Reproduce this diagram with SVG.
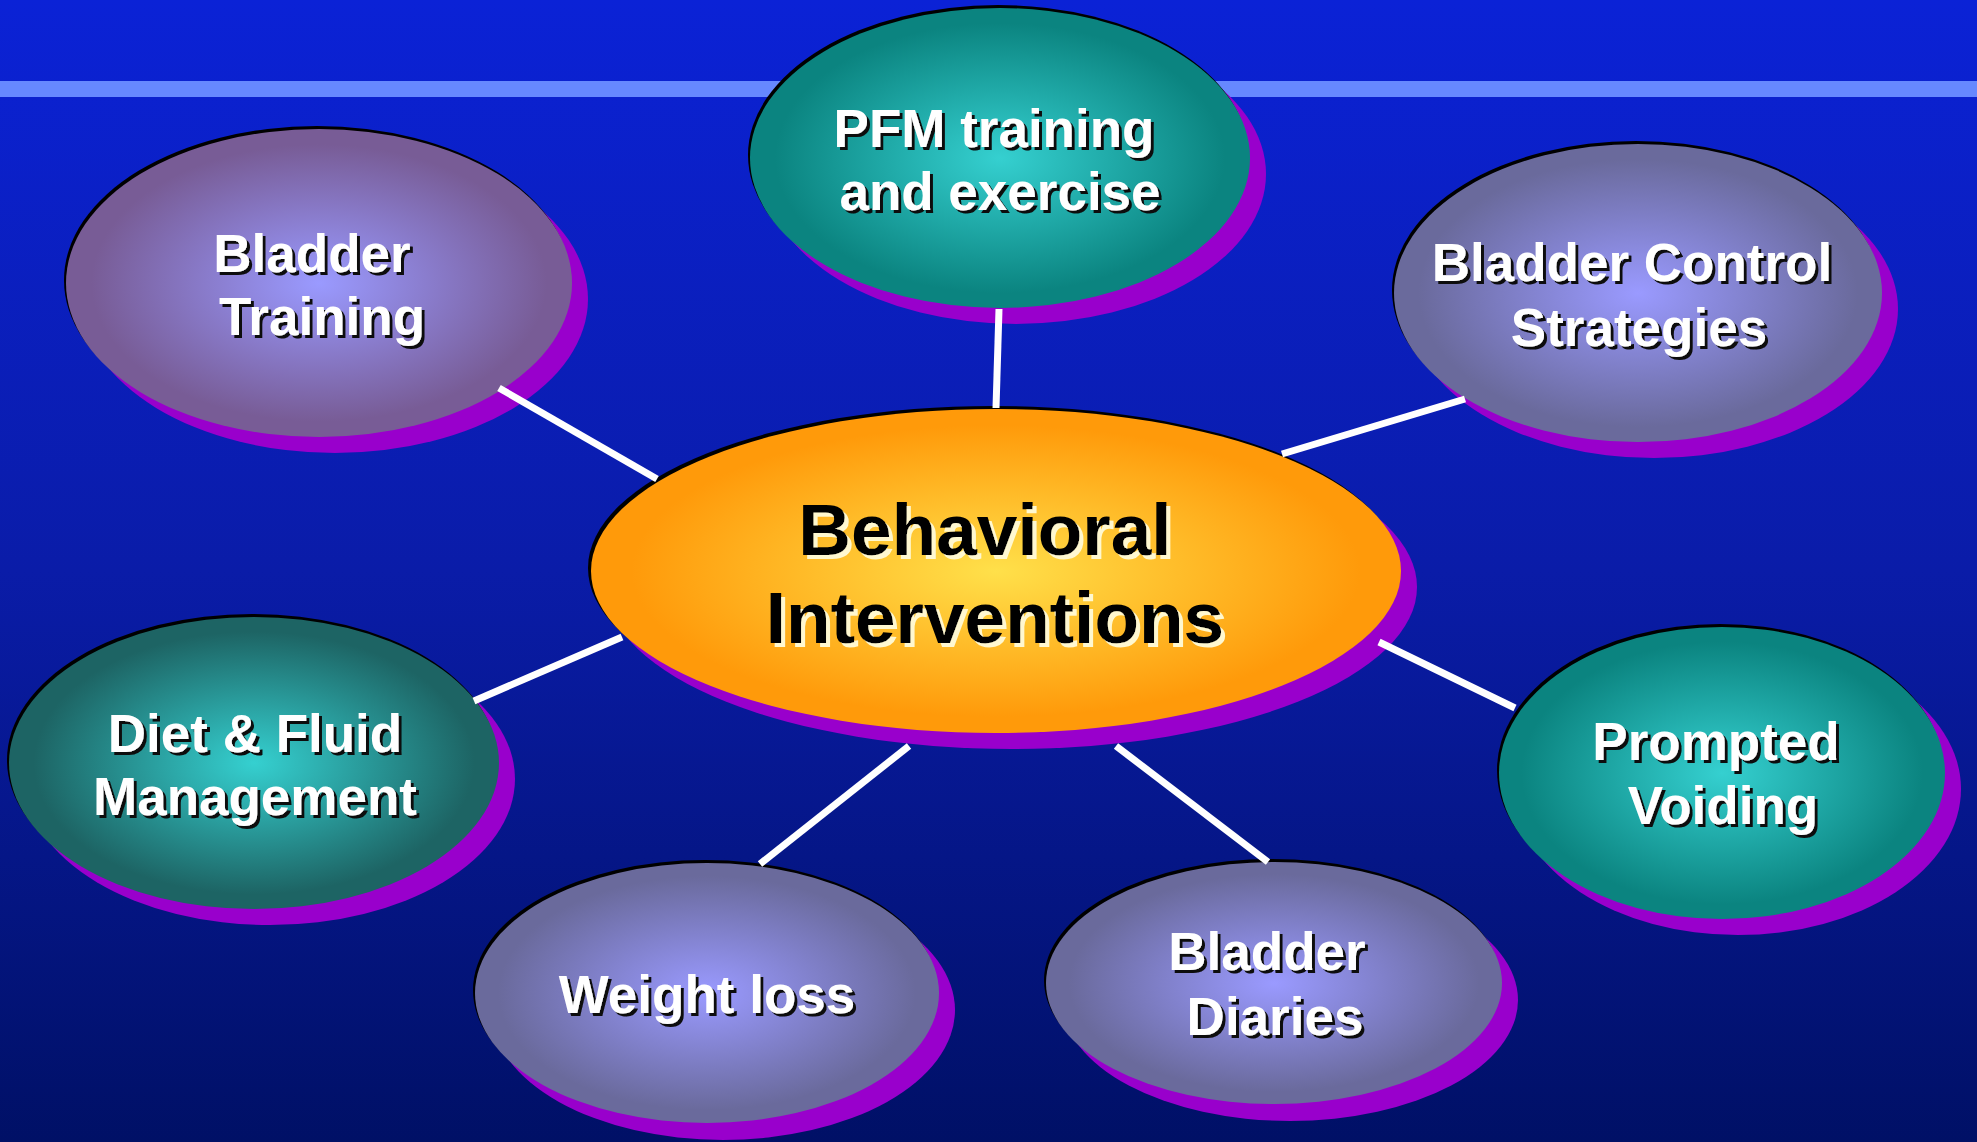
<svg xmlns="http://www.w3.org/2000/svg" width="1977" height="1142" viewBox="0 0 1977 1142">
<defs>
<linearGradient id="bg" x1="0" y1="0" x2="0" y2="1">
<stop offset="0" stop-color="#0b22d6"/>
<stop offset="0.5" stop-color="#0a1ca8"/>
<stop offset="1" stop-color="#001066"/>
</linearGradient>
<radialGradient id="gTeal"><stop offset="0" stop-color="#35d0d0"/><stop offset="0.9" stop-color="#0b8480"/></radialGradient>
<radialGradient id="gTealDark"><stop offset="0" stop-color="#35d0d0"/><stop offset="0.9" stop-color="#1d6464"/></radialGradient>
<radialGradient id="gLilac"><stop offset="0" stop-color="#9a9aff"/><stop offset="0.9" stop-color="#785c96"/></radialGradient>
<radialGradient id="gSlate"><stop offset="0" stop-color="#9a9aff"/><stop offset="0.9" stop-color="#6a6a9c"/></radialGradient>
<radialGradient id="gOrange"><stop offset="0" stop-color="#ffe04a"/><stop offset="0.9" stop-color="#ff9a0a"/></radialGradient>
<filter id="dsDark" x="-10%" y="-20%" width="130%" height="150%">
<feDropShadow dx="3" dy="3" stdDeviation="0.6" flood-color="#111" flood-opacity="1"/>
</filter>
<filter id="dsLight" x="-10%" y="-20%" width="130%" height="150%">
<feDropShadow dx="4" dy="4" stdDeviation="0.6" flood-color="#fff8d0" flood-opacity="1"/>
</filter>
</defs>
<style>
.shadow{fill:#9900cc}
.rim{fill:#000}
.lbl{font-family:"Liberation Sans",Arial,sans-serif;font-weight:bold;font-size:53px;text-anchor:middle;fill:#fff;filter:url(#dsDark)}
.big{font-family:"Liberation Sans",Arial,sans-serif;font-weight:bold;font-size:73px;text-anchor:middle;fill:#000;filter:url(#dsLight)}
.conn line{stroke:#fff;stroke-width:7}
</style>
<rect x="0" y="0" width="1977" height="1142" fill="url(#bg)"/>
<rect x="0" y="81" width="1977" height="16" fill="#6688ff"/>

<g id="node-pfm">
<ellipse class="shadow" cx="1016" cy="174" rx="250" ry="150"/>
<ellipse class="rim" cx="998" cy="155" rx="250" ry="150"/>
<ellipse cx="1000" cy="158" rx="250" ry="150" fill="url(#gTeal)"/>
<text class="lbl" x="994" y="147">PFM training</text>
<text class="lbl" x="1000" y="210">and exercise</text>
</g>

<g id="node-bladder-training">
<ellipse class="shadow" cx="335" cy="299" rx="253" ry="154"/>
<ellipse class="rim" cx="317" cy="280" rx="253" ry="154"/>
<ellipse cx="319" cy="283" rx="253" ry="154" fill="url(#gLilac)"/>
<text class="lbl" x="312" y="272">Bladder</text>
<text class="lbl" x="322" y="335">Training</text>
</g>

<g id="node-bladder-control">
<ellipse class="shadow" cx="1654" cy="309" rx="244" ry="149"/>
<ellipse class="rim" cx="1636" cy="290" rx="244" ry="149"/>
<ellipse cx="1638" cy="293" rx="244" ry="149" fill="url(#gSlate)"/>
<text class="lbl" x="1632" y="281">Bladder Control</text>
<text class="lbl" x="1639" y="346">Strategies</text>
</g>

<g id="node-center">
<ellipse class="shadow" cx="1012" cy="587" rx="405" ry="162"/>
<ellipse class="rim" cx="993" cy="568" rx="405" ry="162"/>
<ellipse cx="996" cy="571" rx="405" ry="162" fill="url(#gOrange)"/>
<text class="big" x="985" y="555">Behavioral</text>
<text class="big" x="995" y="643">Interventions</text>
</g>

<g id="node-diet">
<ellipse class="shadow" cx="270" cy="779" rx="245" ry="146"/>
<ellipse class="rim" cx="252" cy="760" rx="245" ry="146"/>
<ellipse cx="254" cy="763" rx="245" ry="146" fill="url(#gTealDark)"/>
<text class="lbl" x="255" y="752">Diet &amp; Fluid</text>
<text class="lbl" x="255" y="815">Management</text>
</g>

<g id="node-prompted">
<ellipse class="shadow" cx="1738" cy="789" rx="223" ry="146"/>
<ellipse class="rim" cx="1720" cy="770" rx="223" ry="146"/>
<ellipse cx="1722" cy="773" rx="223" ry="146" fill="url(#gTeal)"/>
<text class="lbl" x="1716" y="760">Prompted</text>
<text class="lbl" x="1723" y="824">Voiding</text>
</g>

<g id="node-weight">
<ellipse class="shadow" cx="723" cy="1010" rx="232" ry="130"/>
<ellipse class="rim" cx="705" cy="990" rx="232" ry="130"/>
<ellipse cx="707" cy="993" rx="232" ry="130" fill="url(#gSlate)"/>
<text class="lbl" x="707" y="1013">Weight loss</text>
</g>

<g id="node-diaries">
<ellipse class="shadow" cx="1290" cy="1000" rx="228" ry="121"/>
<ellipse class="rim" cx="1272" cy="980" rx="228" ry="121"/>
<ellipse cx="1274" cy="983" rx="228" ry="121" fill="url(#gSlate)"/>
<text class="lbl" x="1267" y="970">Bladder</text>
<text class="lbl" x="1275" y="1035">Diaries</text>
</g>

<g id="connectors" class="conn">
<line x1="999" y1="309" x2="996" y2="408"/>
<line x1="499" y1="388" x2="657" y2="479"/>
<line x1="1465" y1="399" x2="1282" y2="454"/>
<line x1="474" y1="701" x2="622" y2="637"/>
<line x1="1379" y1="642" x2="1515" y2="708"/>
<line x1="909" y1="746" x2="760" y2="864"/>
<line x1="1116" y1="746" x2="1268" y2="862"/>
</g>
</svg>
